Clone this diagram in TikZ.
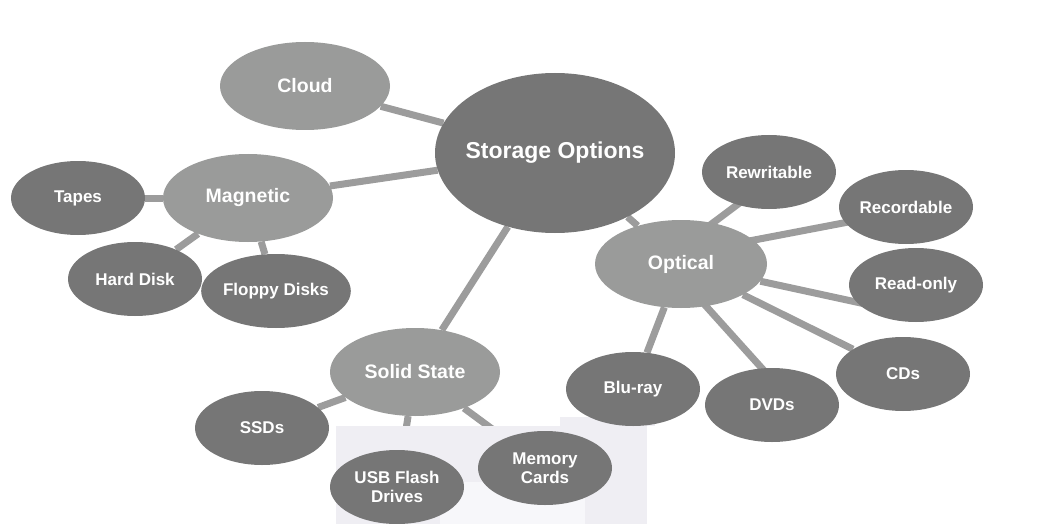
\documentclass[tikz,border=0pt]{standalone}
\usepackage{fontspec}
\setmainfont{Liberation Sans}
\usetikzlibrary{shapes.geometric,calc}
\pgfdeclarelayer{background}
\pgfsetlayers{background,main}
\definecolor{darkfill}{HTML}{767676}
\definecolor{lightfill}{HTML}{9A9B9A}
\definecolor{linkcol}{HTML}{9C9C9C}
\definecolor{wmark}{HTML}{EFEEF3}
\definecolor{wmarkin}{HTML}{F7F7FA}
\tikzset{
  bubble/.style={ellipse, inner sep=0pt, text=white, font=\bfseries, align=center},
  leafnode/.style={bubble, fill=darkfill, minimum width=134pt, minimum height=74pt, font=\fontsize{17}{19}\selectfont\bfseries},
  midnode/.style={bubble, fill=lightfill, minimum width=170pt, minimum height=88pt, font=\fontsize{19.5}{22}\selectfont\bfseries},
  rootnode/.style={bubble, fill=darkfill, inner xsep=-10pt, minimum width=240pt, minimum height=160pt, font=\fontsize{23}{26}\selectfont\bfseries},
  link/.style={draw=linkcol, line width=7pt}
}
\begin{document}
\begin{tikzpicture}[x=1pt,y=-1pt]
\useasboundingbox (0,0) rectangle (1060,524);
% faint watermark
\fill[wmark] (336,426) rectangle (647,524);
\fill[wmark] (560,417) rectangle (655,426);
\fill[wmarkin] (440,482) rectangle (585,524);

\node[rootnode] (root) at (555,153) {Storage Options};
\node[midnode] (cloud) at (305,86) {Cloud};
\node[midnode] (mag) at (248,198) {Magnetic};
\node[midnode] (ss) at (415,372) {Solid State};
\node[midnode, minimum width=172pt] (opt) at (681,264) {Optical};

\node[leafnode] (tapes) at (78,198) {Tapes};
\node[leafnode] (hd) at (135,279) {Hard Disk};
\node[leafnode] (fd) at (276,291) {Floppy Disks};

\node[leafnode] (ssd) at (262,428) {SSDs};
\node[leafnode] (usb) at (397,487) {USB Flash\\Drives};
\node[leafnode] (mem) at (545,468) {Memory\\Cards};

\node[leafnode] (rw) at (769,172) {Rewritable};
\node[leafnode] (rec) at (906,207) {Recordable};
\node[leafnode] (ro) at (916,285) {Read-only};
\node[leafnode] (cd) at (903,374) {CDs};
\node[leafnode] (dvd) at (772,405) {DVDs};
\node[leafnode] (blu) at (633,389) {Blu-ray};

\begin{pgfonlayer}{background}
\draw[link] (root) -- (cloud);
\draw[link] (root) -- (mag);
\draw[link] (root) -- (ss);
\draw[link] (root) -- (opt);
\draw[link] (mag) -- (tapes);
\draw[link] (mag) -- (hd);
\draw[link] (mag) -- (fd);
\draw[link] (ss) -- (ssd);
\draw[link] (ss) -- (usb);
\draw[link] (ss) -- (mem);
\draw[link] ($(opt)+(-23,0)$) -- ($(rw)+(12,0)$);
\draw[link] ($(opt)+(0,-10)$) -- ($(rec)+(0,4)$);
\draw[link] (opt) -- ($(ro)+(0,30)$);
\draw[link] (opt) -- (cd);
\draw[link] ($(opt)+(-13,0)$) -- ($(dvd)+(23,0)$);
\draw[link] (opt) -- (blu);
\end{pgfonlayer}
\end{tikzpicture}
\end{document}
